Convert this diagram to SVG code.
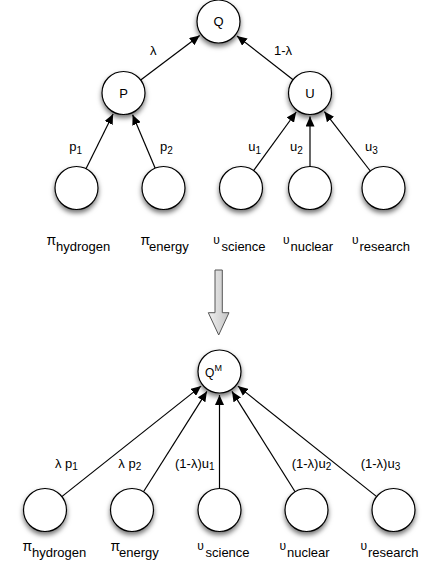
<svg xmlns="http://www.w3.org/2000/svg" width="424" height="564" viewBox="0 0 424 564">
<style>
text{font-family:"Liberation Sans",Arial,Helvetica,sans-serif;fill:#000}
.node{fill:#fff;stroke:#000;stroke-width:1.2;filter:url(#sh)}
.nl{font-size:13px;text-anchor:middle}
.el{font-size:13px}
.sub{font-size:10px}
.sym{font-size:14px}
.ups{font-size:12px}
.nm{font-size:13px}
.edge{stroke:#000;stroke-width:1.2;fill:none;marker-end:url(#ah)}
</style>
<defs>
<filter id="sh" x="-40%" y="-40%" width="180%" height="190%">
<feDropShadow dx="0" dy="3" stdDeviation="2.5" flood-color="#000" flood-opacity="0.55"/>
</filter>
<marker id="ah" markerUnits="userSpaceOnUse" markerWidth="11" markerHeight="9" refX="10" refY="4.5" orient="auto">
<path d="M0,0 L10,4.5 L0,9 z" fill="#000"/>
</marker>
<linearGradient id="ag" x1="0" y1="0" x2="1" y2="0">
<stop offset="0" stop-color="#f0f0f0"/>
<stop offset="1" stop-color="#c4c4c4"/>
</linearGradient>
</defs>
<g id="connectors">
<line class="edge" x1="140.7" y1="80.1" x2="199.7" y2="35.6"/>
<line class="edge" x1="293.1" y1="79.8" x2="237.0" y2="36.0"/>
<line class="edge" x1="86.0" y1="168.7" x2="113.1" y2="114.1"/>
<line class="edge" x1="155.2" y1="168.2" x2="132.6" y2="114.7"/>
<line class="edge" x1="253.6" y1="170.6" x2="296.2" y2="112.0"/>
<line class="edge" x1="310" y1="166.5" x2="310" y2="116.5"/>
<line class="edge" x1="370.3" y1="171.0" x2="324.4" y2="111.6"/>
<line class="edge" x1="61.8" y1="496.6" x2="201.1" y2="386.1"/>
<line class="edge" x1="143.5" y1="491.8" x2="206.9" y2="391.4"/>
<line class="edge" x1="219.5" y1="488.5" x2="219.5" y2="395"/>
<line class="edge" x1="295.1" y1="491.8" x2="232.0" y2="391.4"/>
<line class="edge" x1="376.7" y1="496.6" x2="237.9" y2="386.1"/>
<text class="el" x="150" y="55">λ</text>
<text class="el" x="274" y="55">1-λ</text>
<text class="el" x="69.3" y="151">p<tspan class="sub" dy="2.5">1</tspan></text>
<text class="el" x="160" y="151">p<tspan class="sub" dy="2.5">2</tspan></text>
<text class="el" x="248.3" y="151">u<tspan class="sub" dy="2.5">1</tspan></text>
<text class="el" x="290" y="151">u<tspan class="sub" dy="2.5">2</tspan></text>
<text class="el" x="365" y="151">u<tspan class="sub" dy="2.5">3</tspan></text>
<text class="el" x="55" y="467.7">λ p<tspan class="sub" dy="2.5">1</tspan></text>
<text class="el" x="118.3" y="467.7">λ p<tspan class="sub" dy="2.5">2</tspan></text>
<text class="el" x="175" y="467.7">(1-λ)u<tspan class="sub" dy="2.5">1</tspan></text>
<text class="el" x="291.7" y="467.7">(1-λ)u<tspan class="sub" dy="2.5">2</tspan></text>
<text class="el" x="360.7" y="467.7">(1-λ)u<tspan class="sub" dy="2.5">3</tspan></text>
</g>
<g id="transform-arrow">
<polygon points="215,270 222.3,270 222.3,312.7 229,312.7 218.7,335 208.3,312.7 215,312.7" fill="url(#ag)" stroke="#555" stroke-width="1"/>
</g>
<g id="Q"><circle class="node" cx="218.5" cy="21.5" r="21.5"/><text class="nl" x="218.5" y="26">Q</text></g>
<g id="P"><circle class="node" cx="123.5" cy="93" r="21.5"/><text class="nl" x="123.5" y="98">P</text></g>
<g id="U"><circle class="node" cx="310" cy="93" r="21.5"/><text class="nl" x="310" y="98">U</text></g>
<g id="pi_hydrogen_top"><circle class="node" cx="76.5" cy="188" r="21.5"/><text class="sym" x="46.5" y="245">π</text><text class="nm" x="56" y="251">hydrogen</text></g>
<g id="pi_energy_top"><circle class="node" cx="163.5" cy="188" r="21.5"/><text class="sym" x="140.5" y="245">π</text><text class="nm" x="149" y="251">energy</text></g>
<g id="u_science_top"><circle class="node" cx="241" cy="188" r="21.5"/><text class="ups" x="213.3" y="243.5">υ</text><text class="nm" x="221.5" y="251">science</text></g>
<g id="u_nuclear_top"><circle class="node" cx="310" cy="188" r="21.5"/><text class="ups" x="283" y="243.5">υ</text><text class="nm" x="290.5" y="251">nuclear</text></g>
<g id="u_research_top"><circle class="node" cx="383.5" cy="188" r="21.5"/><text class="ups" x="352" y="243.5">υ</text><text class="nm" x="359.5" y="251">research</text></g>
<g id="QM"><circle class="node" cx="219.5" cy="371.5" r="21.5"/><text x="205" y="377.3" font-size="12">Q</text><text x="214.5" y="370.7" font-size="9">M</text></g>
<g id="pi_hydrogen_bottom"><circle class="node" cx="45" cy="510" r="21.5"/><text class="sym" x="22.5" y="551">π</text><text class="nm" x="32" y="557">hydrogen</text></g>
<g id="pi_energy_bottom"><circle class="node" cx="132" cy="510" r="21.5"/><text class="sym" x="110.5" y="551">π</text><text class="nm" x="119" y="557">energy</text></g>
<g id="u_science_bottom"><circle class="node" cx="219.5" cy="510" r="21.5"/><text class="ups" x="197.3" y="549.5">υ</text><text class="nm" x="205.5" y="557">science</text></g>
<g id="u_nuclear_bottom"><circle class="node" cx="306.5" cy="510" r="21.5"/><text class="ups" x="279.5" y="549.5">υ</text><text class="nm" x="287" y="557">nuclear</text></g>
<g id="u_research_bottom"><circle class="node" cx="393.5" cy="510" r="21.5"/><text class="ups" x="360.5" y="549.5">υ</text><text class="nm" x="368" y="557">research</text></g>
</svg>
